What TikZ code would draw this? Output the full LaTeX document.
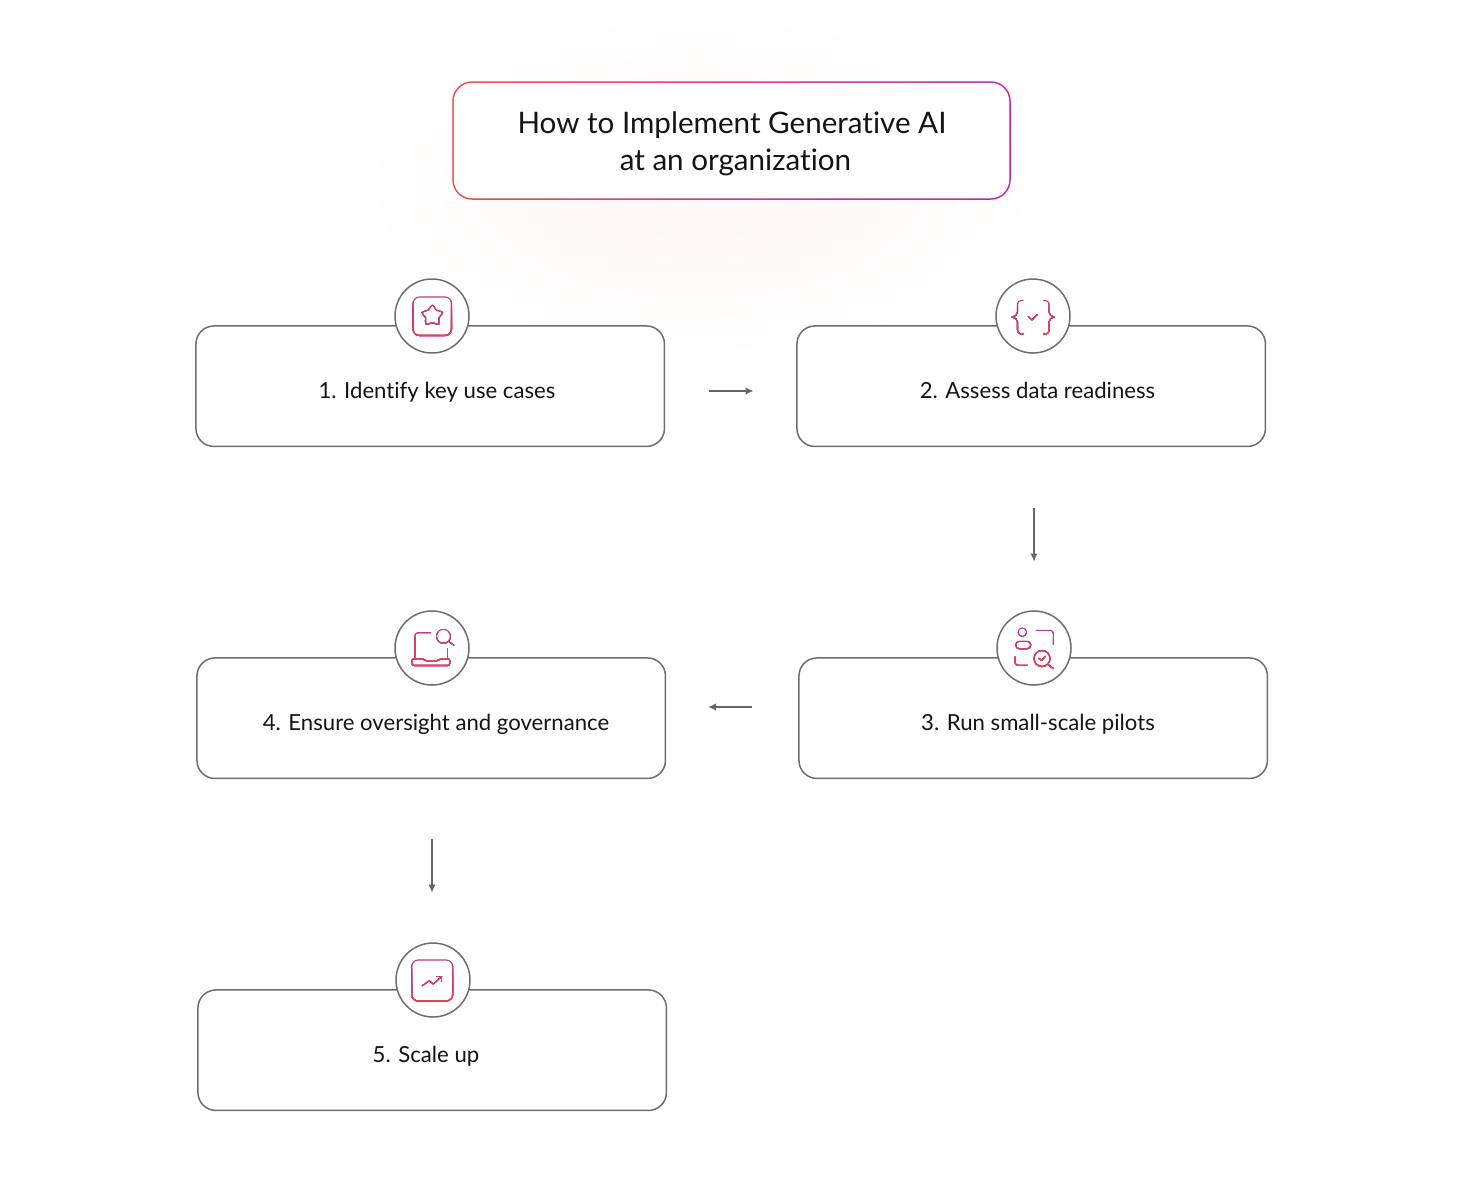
\documentclass[tikz,border=0pt]{standalone}
\usepackage{fontspec}
\setmainfont{Lato}[Ligatures={NoCommon}]
\usetikzlibrary{arrows.meta}
\definecolor{edge}{HTML}{6E6E6E}
\definecolor{arrowc}{HTML}{666666}
\definecolor{ink}{HTML}{141414}
\definecolor{icona}{HTML}{E8434F}
\definecolor{iconb}{HTML}{B83C8C}
\definecolor{titlea}{HTML}{EE4B45}
\definecolor{titleb}{HTML}{C41DB4}
\definecolor{glowc}{HTML}{FDF7F5}
\tikzset{
  x=1pt,y=-1pt,
  stepbox/.style={draw=edge,line width=1.5pt,rounded corners=18pt,fill=white,minimum width=468.5pt,minimum height=120.5pt,inner sep=0pt,anchor=north west},
  badge/.style={circle,draw=edge,line width=1.5pt,fill=white,minimum size=74pt,inner sep=0pt},
  steptext/.style={text=ink,font=\fontsize{22.15pt}{26pt}\selectfont,inner sep=0pt,anchor=base},
  titletext/.style={text=ink,font=\fontsize{29.6pt}{36pt}\selectfont,inner sep=0pt,anchor=base},
  flow/.style={draw=arrowc,line width=1.5pt,-{Latex[length=8pt,width=7.5pt]}},
  iconline/.style={line width=1.1pt,line cap=round,line join=round},
}
% gradient stroke: paint the icon repeatedly through horizontal bands
\newcommand{\gradicon}[3]{% top y, bottom y, paths (drawn with iconline)
  \foreach \band in {0,...,7}{%
    \pgfmathsetmacro{\ytop}{#1+(#2-#1)*\band/8}%
    \pgfmathsetmacro{\ybot}{#2+2}%
    \pgfmathsetmacro{\mixv}{100*\band/7}%
    \begin{scope}
      \clip (0,\ytop) rectangle (1464,\ybot);
      \colorlet{cc}{icona!\mixv!iconb}
      \begin{scope}[iconline,draw=cc]
        #3
      \end{scope}
    \end{scope}
  }%
}
\begin{document}
\begin{tikzpicture}
\useasboundingbox (0,0) rectangle (1464,1200);
\fill[white] (0,0) rectangle (1464,1200);
% soft glow
\shade[inner color=glowc,outer color=white] (700,185) ellipse [x radius=345pt,y radius=175pt];

% title
\node[rounded corners=20pt,left color=titlea,right color=titleb,minimum width=558.5pt,minimum height=118.5pt,inner sep=0pt] (titleedge) at (731.5,140.5) {};
\node[rounded corners=18.6pt,fill=white,minimum width=555.5pt,minimum height=115.5pt,inner sep=0pt] (titlebox) at (titleedge.center) {};
\node[titletext] (t1) at (732,133.5) {How to Implement Generative AI};
\node[titletext] (t2) at (735.5,170.5) {at an organization};

% boxes
\node[stepbox] (b1) at (195.2,325.2) {};
\node[stepbox] (b2) at (796.2,325.2) {};
\node[stepbox] (b3) at (798.2,657.2) {};
\node[stepbox] (b4) at (196.2,657.2) {};
\node[stepbox] (b5) at (197.2,989.2) {};

% badges
\node[badge] (c1) at (432,316) {};
\node[badge] (c2) at (1033,316) {};
\node[badge] (c3) at (1034,648) {};
\node[badge] (c4) at (432,648) {};
\node[badge] (c5) at (433,980) {};

% labels
\node[steptext] (l1) at (437,398) {1. Identify key use cases};
\node[steptext] (l2) at (1037.5,398) {2. Assess data readiness};
\node[steptext] (l3) at (1038,730) {3. Run small-scale pilots};
\node[steptext] (l4) at (436,730) {4. Ensure oversight and governance};
\node[steptext] (l5) at (426,1062) {5. Scale up};

% connectors
\coordinate (a1s) at (709,391); \coordinate (a1e) at (753.5,391);
\coordinate (a2s) at (1034,508); \coordinate (a2e) at (1034,561.5);
\coordinate (a3s) at (752,707); \coordinate (a3e) at (708,707);
\coordinate (a4s) at (432,839); \coordinate (a4e) at (432,892.5);
\draw[flow] (a1s) -- (a1e);
\draw[flow] (a2s) -- (a2e);
\draw[flow] (a3s) -- (a3e);
\draw[flow] (a4s) -- (a4e);

% icon 1
\gradicon{296}{337}{
  \draw[rounded corners=6.5pt] (413,297) rectangle (451.5,335.5);
  \draw plot[smooth cycle,tension=0.9] coordinates {(432.3,305)(436.4,310.1)(442.6,312.4)(439,317.8)(438.7,324.4)(432.3,322.6)(425.9,324.4)(425.6,317.8)(422,312.4)(428.2,310.1)};
}
% icon 2
\gradicon{299}{335}{
  \draw (1023,300.5) .. controls (1019,300.5) and (1017.5,301.5) .. (1017.5,305) -- (1017.5,312) .. controls (1017.5,315) and (1015,316.5) .. (1012,317) .. controls (1015,317.5) and (1017.5,319) .. (1017.5,322) -- (1017.5,329.5) .. controls (1017.5,333) and (1019,334) .. (1023,334);
  \draw (1043.5,300.5) .. controls (1047.5,300.5) and (1049,301.5) .. (1049,305) -- (1049,312) .. controls (1049,315) and (1051.5,316.5) .. (1054.5,317) .. controls (1051.5,317.5) and (1049,319) .. (1049,322) -- (1049,329.5) .. controls (1049,333) and (1047.5,334) .. (1043.5,334);
  \draw (1028.3,316.5) -- (1032,320) -- (1037.3,314.5);
}
% icon 3
\gradicon{627}{669}{
  \draw (1022.3,632.2) circle [radius=4.3pt];
  \draw[rounded corners=3.5pt] (1015.7,648.7) -- (1015.7,641.3) -- (1030.7,641.3) -- (1030.7,648.7) -- cycle;
  \draw[rounded corners=3pt] (1036,630.3) -- (1053.3,630.3) -- (1053.3,644.3);
  \draw[rounded corners=3pt] (1015,657) -- (1015,665.3) -- (1027.3,665.3);
  \draw (1042,658.5) circle [radius=8pt];
  \draw (1048.3,664.7) -- (1053.3,668.5);
  \draw (1039,658.3) -- (1041.7,660.5) -- (1045.2,656.3);
}
% icon 4
\gradicon{628}{667}{
  \draw[rounded corners=3pt] (430.7,632.7) -- (415,632.7) -- (415,658.7);
  \draw (447.3,648.7) -- (447.3,658.7);
  \draw[rounded corners=2.5pt] (411.7,658.7) -- (423.5,658.7) -- (426,661.2) -- (437,661.2) -- (440,658.7) -- (450,658.7) -- (450,665.5) -- (411.7,665.5) -- cycle;
  \draw (443.5,636.3) circle [radius=7pt];
  \draw (448.5,641.3) -- (454,645.3);
}
% icon 5
\gradicon{959}{1002}{
  \draw[rounded corners=6.5pt] (411.7,960) rectangle (452.7,1001);
  \draw (422.3,985.7) -- (429.3,980.7) -- (433.3,984) -- (441.7,976.5);
  \draw (436.7,976.3) -- (441.7,976.3) -- (441.7,981.3);
}
\end{tikzpicture}
\end{document}
